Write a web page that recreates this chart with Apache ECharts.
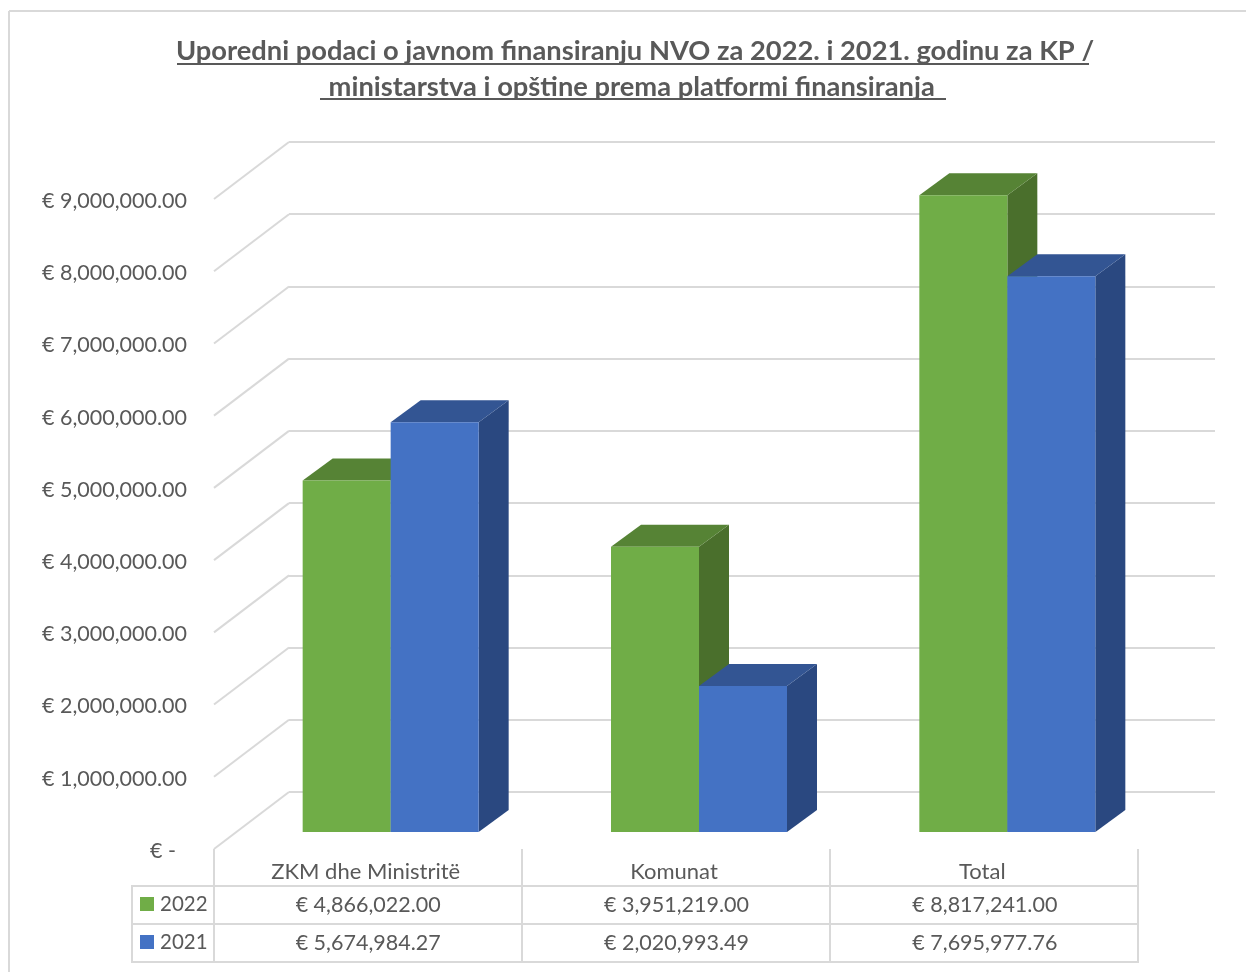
<!DOCTYPE html>
<html>
<head>
<meta charset="utf-8">
<title>NVO</title>
<script src="https://cdn.jsdelivr.net/npm/echarts@6/dist/echarts.min.js"></script>
<style>
  html, body { margin: 0; padding: 0; background: #fff; }
  #main { width: 1246px; height: 972px; }
</style>
</head>
<body>
<div id="main"></div>
<script>
const categories = ["ZKM dhe Ministritë", "Komunat", "Total"];
const values2022 = [4866022.0, 3951219.0, 8817241.0];
const values2021 = [5674984.27, 2020993.49, 7695977.76];
const labels2022 = ["€ 4,866,022.00", "€ 3,951,219.00", "€ 8,817,241.00"];
const labels2021 = ["€ 5,674,984.27", "€ 2,020,993.49", "€ 7,695,977.76"];
const yTicks = [0, 1000000, 2000000, 3000000, 4000000, 5000000, 6000000, 7000000, 8000000, 9000000];
const yLabels = ["€ -", "€ 1,000,000.00", "€ 2,000,000.00", "€ 3,000,000.00", "€ 4,000,000.00",
  "€ 5,000,000.00", "€ 6,000,000.00", "€ 7,000,000.00", "€ 8,000,000.00", "€ 9,000,000.00"];
const titleLines = "Uporedni podaci o javnom finansiranju NVO za 2022. i 2021. godinu za KP /\nministarstva i opštine prema platformi finansiranja ";

const FONT = "Lato";
const TEXT = "#595959";
const GRID = "#d9d9d9";
const GREEN = { front: "#70ad47", top: "#568335", side: "#4a6f2c" };
const BLUE = { front: "#4472c4", top: "#335593", side: "#2a4880" };

// the wall behind sits this far up and right of the front plane
const WALL_DX = 75, WALL_DY = 57;
// bars stand on a floor between the two
const BAR_DX = 22.5, BAR_DY = 17, BAR_W = 88, DEPTH_X = 30, DEPTH_Y = 22;

function barRender(colors, side) {
  return function (params, api) {
    const cat = api.value(0);
    const top = api.coord([cat, api.value(1)]);
    const base = api.coord([cat, 0]);
    const x0 = top[0] + BAR_DX + (side < 0 ? -BAR_W : 0);
    const x1 = x0 + BAR_W;
    const y0 = top[1] - BAR_DY;
    const y1 = base[1] - BAR_DY;
    return {
      type: "group",
      children: [
        { type: "polygon", shape: { points: [[x1, y0], [x1 + DEPTH_X, y0 - DEPTH_Y], [x1 + DEPTH_X, y1 - DEPTH_Y], [x1, y1]] }, style: { fill: colors.side } },
        { type: "polygon", shape: { points: [[x0, y0], [x0 + DEPTH_X, y0 - DEPTH_Y], [x1 + DEPTH_X, y0 - DEPTH_Y], [x1, y0]] }, style: { fill: colors.top } },
        { type: "rect", shape: { x: x0, y: y0, width: BAR_W, height: y1 - y0 }, style: { fill: colors.front } },
      ],
    };
  };
}

function cellRender(rowY, texts) {
  return function (params, api) {
    const p = api.coord([api.value(0), 0]);
    return {
      type: "text",
      style: { x: p[0], y: rowY, text: texts[params.dataIndex], fill: TEXT, font: "21.5px " + FONT, textAlign: "center", textVerticalAlign: "middle" },
    };
  };
}

function hLine(x1, x2, y) {
  return { type: "line", shape: { x1, x2, y1: y, y2: y }, style: { stroke: GRID, lineWidth: 2 }, silent: true };
}
function vLine(x, y1, y2) {
  return { type: "line", shape: { x1: x, x2: x, y1, y2 }, style: { stroke: GRID, lineWidth: 2 }, silent: true };
}

const myChart = echarts.init(document.getElementById("main"), null, { renderer: "canvas" });

const option = {
  backgroundColor: "#fff",
  animation: false,
  title: {
    text: titleLines,
    left: 630,
    top: 28,
    textAlign: "center",
    textStyle: { fontFamily: FONT, fontSize: 27.3, fontWeight: "bold", color: TEXT, lineHeight: 36 },
  },
  grid: [
    { left: 214, top: 199, width: 925, height: 650 }, // front plane
    { left: 289, top: 142, width: 926, height: 650 }, // back wall
  ],
  xAxis: [
    {
      gridIndex: 0,
      type: "category",
      data: categories,
      axisLine: { show: false },
      axisTick: { show: false },
      axisLabel: { color: TEXT, fontFamily: FONT, fontSize: 22, margin: 12, padding: [0, 5, 0, 0] },
    },
    { gridIndex: 1, type: "category", data: categories, show: false },
  ],
  yAxis: [
    {
      gridIndex: 0,
      type: "value",
      min: 0,
      max: 9000000,
      interval: 1000000,
      axisLine: { show: false },
      axisTick: { show: false },
      splitLine: { show: false },
      axisLabel: {
        margin: 27,
        padding: [4, 0, 0, 0],
        formatter: function (v) {
          const s = yLabels[yTicks.indexOf(v)];
          return v === 0 ? "{z|" + s + "}" : s;
        },
        color: TEXT,
        fontFamily: FONT,
        fontSize: 21.5,
        rich: { z: { color: TEXT, fontFamily: FONT, fontSize: 21.5, padding: [0, 11, 0, 0] } },
      },
    },
    {
      gridIndex: 1,
      type: "value",
      min: 0,
      max: 9000000,
      interval: 1000000,
      axisLine: { show: false },
      axisTick: { show: false },
      axisLabel: { show: false },
      splitLine: { show: true, lineStyle: { color: GRID, width: 2 } },
    },
  ],
  series: [
    {
      // slanted side wall lines
      type: "custom",
      xAxisIndex: 0,
      yAxisIndex: 0,
      data: yTicks.map((v) => [0, v]),
      encode: { x: 0, y: 1 },
      silent: true,
      z: 1,
      renderItem: function (params, api) {
        const p = api.coord([0, api.value(1)]);
        const x = params.coordSys.x;
        return {
          type: "line",
          shape: { x1: x, y1: p[1], x2: x + WALL_DX, y2: p[1] - WALL_DY },
          style: { stroke: GRID, lineWidth: 2 },
        };
      },
    },
    {
      name: "2022",
      type: "custom",
      xAxisIndex: 0,
      yAxisIndex: 0,
      data: categories.map((c, i) => [i, values2022[i]]),
      encode: { x: 0, y: 1 },
      z: 3,
      renderItem: barRender(GREEN, -1),
    },
    {
      name: "2021",
      type: "custom",
      xAxisIndex: 0,
      yAxisIndex: 0,
      data: categories.map((c, i) => [i, values2021[i]]),
      encode: { x: 0, y: 1 },
      z: 4,
      renderItem: barRender(BLUE, 1),
    },
    {
      type: "custom",
      xAxisIndex: 0,
      yAxisIndex: 0,
      data: categories.map((c, i) => [i, 0]),
      encode: { x: 0, y: 1 },
      silent: true,
      z: 5,
      renderItem: cellRender(905, labels2022),
    },
    {
      type: "custom",
      xAxisIndex: 0,
      yAxisIndex: 0,
      data: categories.map((c, i) => [i, 0]),
      encode: { x: 0, y: 1 },
      silent: true,
      z: 5,
      renderItem: cellRender(943, labels2021),
    },
  ],
  graphic: [
    // chart frame
    vLine(9, 11, 972),
    hLine(9, 1246, 11),
    // title underlines
    { type: "line", shape: { x1: 177, x2: 1089, y1: 64, y2: 64 }, style: { stroke: TEXT, lineWidth: 2 }, silent: true },
    { type: "line", shape: { x1: 320, x2: 946, y1: 99, y2: 99 }, style: { stroke: TEXT, lineWidth: 2 }, silent: true },
    // data table
    vLine(214, 849, 962),
    vLine(522, 849, 962),
    vLine(830, 849, 962),
    vLine(1138, 849, 962),
    vLine(132, 885, 962),
    hLine(131, 1139, 886),
    hLine(131, 1139, 924),
    hLine(131, 1139, 962),
    { type: "rect", shape: { x: 140, y: 897, width: 14, height: 14 }, style: { fill: GREEN.front }, silent: true },
    { type: "rect", shape: { x: 140, y: 935, width: 14, height: 14 }, style: { fill: BLUE.front }, silent: true },
    { type: "text", style: { x: 160, y: 904, text: "2022", fill: TEXT, font: "20.5px " + FONT, textVerticalAlign: "middle" }, silent: true },
    { type: "text", style: { x: 160, y: 942, text: "2021", fill: TEXT, font: "20.5px " + FONT, textVerticalAlign: "middle" }, silent: true },
  ],
};

option && myChart.setOption(option);
</script>
</body>
</html>
